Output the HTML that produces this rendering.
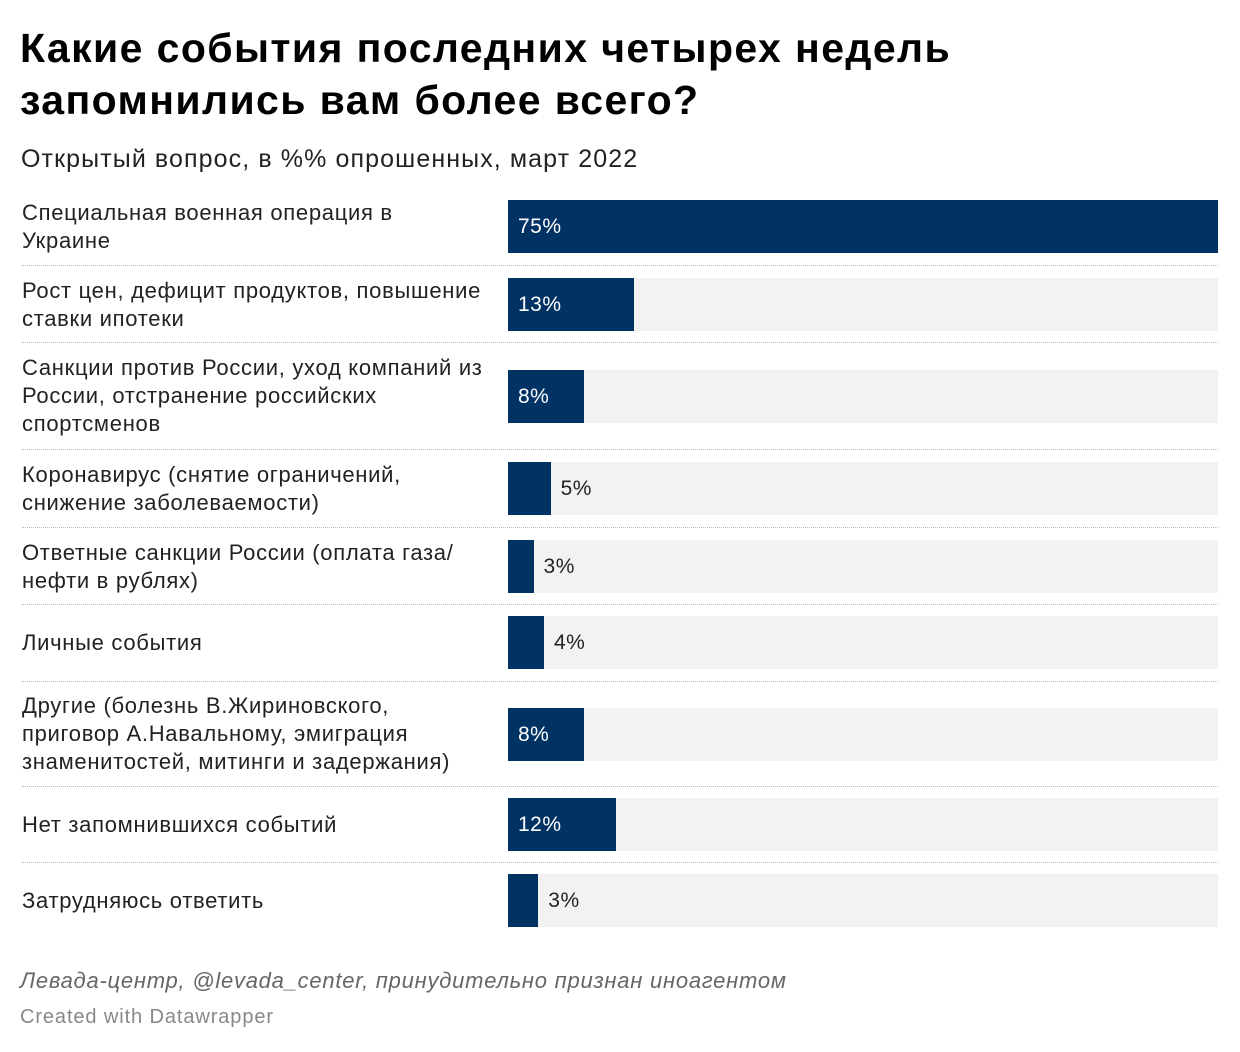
<!DOCTYPE html>
<html><head><meta charset="utf-8">
<style>
body{margin:0;width:1240px;height:1052px;background:#fff;font-family:"Liberation Sans",sans-serif;position:relative;overflow:hidden}
.abs{position:absolute}
h1{position:absolute;left:20px;top:22px;margin:0;font-size:41px;letter-spacing:1.4px;line-height:52px;font-weight:bold;color:#000;white-space:nowrap}
.sub{left:21px;top:145px;font-size:25px;letter-spacing:1.1px;color:#222;white-space:nowrap}
.lbl{left:22px;width:490px;font-size:22px;letter-spacing:0.7px;line-height:28px;color:#222;white-space:pre-line}
.bg{left:508px;width:710px;height:53px;background:#f2f2f2}
.bar{left:508px;height:53px;background:#003264}
.val{font-size:21px;letter-spacing:0.5px;line-height:53px}
.sep{left:22px;width:1196px;border-top:1px dotted #bbb;height:0}
.src{left:20px;top:968px;font-size:22px;letter-spacing:0.75px;font-style:italic;color:#666;white-space:nowrap}
.dw{left:20px;top:1006px;font-size:20px;letter-spacing:0.9px;color:#888}
</style></head><body>
<h1>Какие события последних четырех недель<br>запомнились вам более всего?</h1>
<div class="abs sub">Открытый вопрос, в %% опрошенных, март 2022</div>
<div id="chart"></div>
<div class="abs src">Левада-центр, @levada_center, принудительно признан иноагентом</div>
<div class="abs dw">Created with Datawrapper</div>
<script>
const categories=["Специальная военная операция в\nУкраине","Рост цен, дефицит продуктов, повышение\nставки ипотеки","Санкции против России, уход компаний из\nРоссии, отстранение российских\nспортсменов","Коронавирус (снятие ограничений,\nснижение заболеваемости)","Ответные санкции России (оплата газа/\nнефти в рублях)","Личные события","Другие (болезнь В.Жириновского,\nприговор А.Навальному, эмиграция\nзнаменитостей, митинги и задержания)","Нет запомнившихся событий","Затрудняюсь ответить"];
const values=[75,13.3,8,4.5,2.7,3.8,8,11.4,3.2];
const valueLabels=["75%","13%","8%","5%","3%","4%","8%","12%","3%"];
const barTops=[200,278,370,462,540,616,708,798,874];
const sepTops=[265,342,449,527,604,681,786,862];
const x0=508,scale=710/75;
function xw(v){return v*scale;}
const c=document.getElementById('chart');
categories.forEach((cat,i)=>{
  const top=barTops[i];
  const lines=cat.split("\n").length;
  const lbl=document.createElement('div');
  lbl.className='abs lbl';
  
  
  lbl.style.top=(lines===3?top-16:top+26.5-lines*14)+'px';
  lbl.textContent=cat;c.appendChild(lbl);
  const bg=document.createElement('div');
  bg.className='abs bg';bg.style.top=top+'px';
  
  
  c.appendChild(bg);
  const w=xw(values[i]);
  const b=document.createElement('div');
  b.className='abs bar';b.style.top=top+'px';b.style.width=w+'px';
  
  
  c.appendChild(b);
  const v=document.createElement('div');
  v.className='abs val';v.style.top=top+'px';
  
  
  v.textContent=valueLabels[i];
  if(w>60){v.style.left=(x0+10)+'px';v.style.color='#fff';}
  else{v.style.left=(x0+w+10)+'px';v.style.color='#222';}
  c.appendChild(v);
});
sepTops.forEach(t=>{
  const s=document.createElement('div');
  s.className='abs sep';s.style.top=t+'px';
  
  
  c.appendChild(s);
});
</script>
</body></html>
